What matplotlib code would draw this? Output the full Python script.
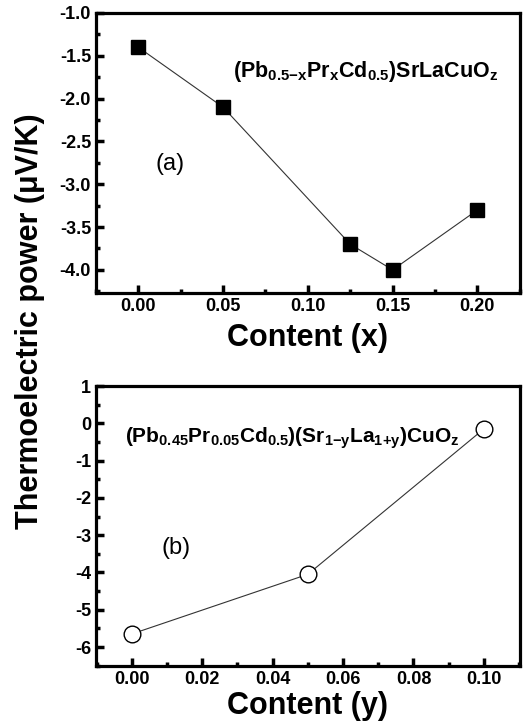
import numpy as np
import matplotlib
matplotlib.use('Agg')
import matplotlib.pyplot as plt
from matplotlib.ticker import MultipleLocator, FormatStrFormatter

plt.rcParams['font.family'] = ['Liberation Sans', 'DejaVu Sans']
plt.rcParams['mathtext.fontset'] = 'custom'
plt.rcParams['mathtext.rm'] = 'Liberation Sans'
plt.rcParams['mathtext.bf'] = 'Liberation Sans:bold'

# panel (a): thermoelectric power vs Pr content x
x_a = [0.0, 0.05, 0.125, 0.15, 0.20]
s_a = [-1.4, -2.1, -3.7, -4.0, -3.3]
label_a = r'$\mathbf{(Pb_{0.5{-}x}Pr_xCd_{0.5})SrLaCuO_z}$'

# panel (b): thermoelectric power vs La content y
x_b = [0.0, 0.05, 0.10]
s_b = [-5.65, -4.05, -0.15]
label_b = r'$\mathbf{(Pb_{0.45}Pr_{0.05}Cd_{0.5})(Sr_{1{-}y}La_{1{+}y})CuO_z}$'

fig = plt.figure(figsize=(5.24, 7.26), dpi=100)
ax1 = fig.add_axes([0.183, 0.5964, 0.809, 0.3857])
ax2 = fig.add_axes([0.183, 0.0826, 0.809, 0.3857])


def style(ax):
    for sp in ax.spines.values():
        sp.set_linewidth(2.3)
    ax.tick_params(which='both', direction='in', width=2.5, top=False, right=False,
                   labelsize=13)
    ax.tick_params(which='major', length=6)
    ax.tick_params(which='minor', length=3)
    for lab in ax.get_xticklabels() + ax.get_yticklabels():
        lab.set_fontweight('bold')


ax1.plot(x_a, s_a, '-', color='#333333', lw=0.8, marker='s', ms=10,
         mfc='black', mec='black')
ax1.set_xlim(-0.025, 0.225)
ax1.set_ylim(-4.27, -1.0)
ax1.xaxis.set_major_locator(MultipleLocator(0.05))
ax1.xaxis.set_minor_locator(MultipleLocator(0.025))
ax1.yaxis.set_major_locator(MultipleLocator(0.5))
ax1.yaxis.set_minor_locator(MultipleLocator(0.25))
ax1.xaxis.set_major_formatter(FormatStrFormatter('%.2f'))
ax1.yaxis.set_major_formatter(FormatStrFormatter('%.1f'))
style(ax1)
ax1.set_xlabel('Content (x)', fontsize=22, fontweight='bold', labelpad=6)
ax1.text(0.323, 0.79, label_a, transform=ax1.transAxes, fontsize=15.5,
         ha='left', va='center')
ax1.text(0.175, 0.46, '(a)', transform=ax1.transAxes, fontsize=17,
         ha='center', va='center')

ax2.plot(x_b, s_b, '-', color='#333333', lw=0.8, marker='o', ms=12,
         mfc='white', mec='black', mew=1.0)
ax2.set_xlim(-0.0102, 0.1102)
ax2.set_ylim(-6.51, 1.0)
ax2.xaxis.set_major_locator(MultipleLocator(0.02))
ax2.xaxis.set_minor_locator(MultipleLocator(0.01))
ax2.yaxis.set_major_locator(MultipleLocator(1))
ax2.yaxis.set_minor_locator(MultipleLocator(0.5))
ax2.xaxis.set_major_formatter(FormatStrFormatter('%.2f'))
ax2.yaxis.set_major_formatter(FormatStrFormatter('%d'))
style(ax2)
ax2.set_xlabel('Content (y)', fontsize=22, fontweight='bold', labelpad=2)
ax2.text(0.068, 0.814, label_b, transform=ax2.transAxes, fontsize=15,
         ha='left', va='center')
ax2.text(0.19, 0.42, '(b)', transform=ax2.transAxes, fontsize=17,
         ha='center', va='center')

fig.text(0.057, 0.558, 'Thermoelectric power (\u03bcV/K)', rotation=90,
         fontsize=22, fontweight='bold', ha='center', va='center')

fig.savefig('out.png', dpi=100, facecolor='white')
